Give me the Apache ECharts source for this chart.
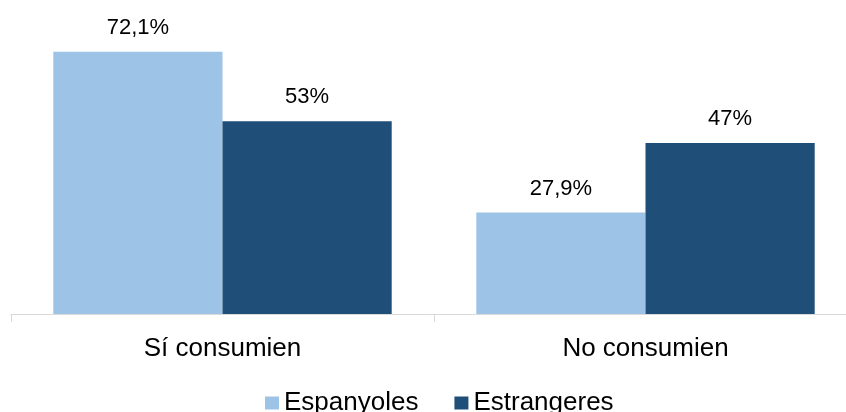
<!DOCTYPE html>
<html><head><meta charset="utf-8">
<script src="https://cdn.jsdelivr.net/npm/echarts@6/dist/echarts.min.js"></script>
<style>html,body{margin:0;padding:0;background:#fff}#c{width:846px;height:412px}</style>
</head><body><div id="c"></div>
<script>
const categories = ['Sí consumien', 'No consumien'];
const espanyoles = [72.1, 27.9];
const estrangeres = [53, 47];
const seriesNames = ['Espanyoles', 'Estrangeres'];

const fmt = p => String(p.value).replace('.', ',') + '%';
const chart = echarts.init(document.getElementById('c'));
const FONT = '"Liberation Sans", Arial, sans-serif';
chart.setOption({
  animation: false,
  textStyle: { fontFamily: FONT },
  grid: { left: 11, width: 846, top: 23, height: 291, outerBoundsMode: 'none', containLabel: false },
  legend: {
    left: 265, top: 390, padding: 0, itemWidth: 14, itemHeight: 13, itemGap: 36,
    icon: 'rect',
    textStyle: { fontSize: 26, color: '#000', fontFamily: FONT },
    data: seriesNames
  },
  xAxis: {
    type: 'category', data: categories,
    axisLine: { lineStyle: { color: '#d9d9d9', width: 1 } },
    axisTick: { show: true, length: 8, lineStyle: { color: '#d9d9d9' } },
    axisLabel: { fontSize: 26, color: '#000', margin: 22, fontFamily: FONT }
  },
  yAxis: { type: 'value', min: 0, max: 80, show: false, splitLine: { show: false } },
  series: [
    { name: seriesNames[0], type: 'bar', data: espanyoles, barGap: 0, barCategoryGap: '20%',
      itemStyle: { color: '#9DC3E6' },
      label: { show: true, position: 'top', distance: 13, fontSize: 22, color: '#000', formatter: fmt, fontFamily: FONT } },
    { name: seriesNames[1], type: 'bar', data: estrangeres, barGap: 0, barCategoryGap: '20%',
      itemStyle: { color: '#1F4E79' },
      label: { show: true, position: 'top', distance: 13, fontSize: 22, color: '#000', formatter: fmt, fontFamily: FONT } }
  ]
});
</script></body></html>
